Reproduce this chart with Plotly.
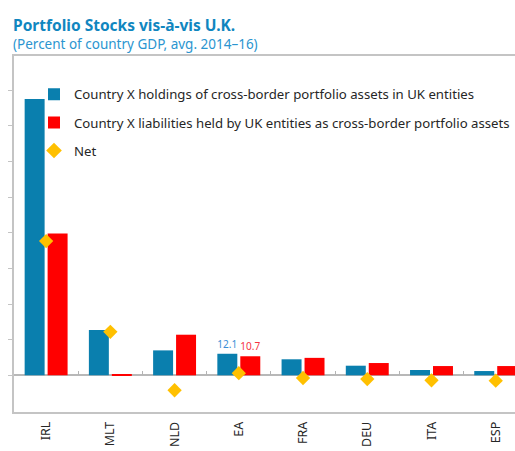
import plotly.graph_objects as go

categories = ["IRL", "MLT", "NLD", "EA", "FRA", "DEU", "ITA", "ESP"]
holdings = [155.2, 25.5, 14.0, 12.1, 9.0, 5.4, 3.0, 2.4]
liabilities = [79.6, 0.7, 22.8, 10.7, 9.8, 6.9, 5.2, 5.2]
net = [75.4, 24.4, -8.4, 1.2, -1.5, -2.1, -2.8, -3.0]
holdings_labels = ["", "", "", "12.1", "", "", "", ""]
liabilities_labels = ["", "", "", "10.7", "", "", "", ""]
y_ticks = [0, 20, 40, 60, 80, 100, 120, 140, 160]

BLUE = "#0a7fae"
RED = "#ff0000"
GOLD = "#ffc000"
FONT = "Noto Sans"

Y_MIN, Y_MAX = -20.6, 179.3
X_RANGE = [-0.5, 7.3]

fig = go.Figure()
fig.add_trace(go.Bar(
    x=categories, y=holdings, name="Country X holdings of cross-border portfolio assets in UK entities",
    marker=dict(color=BLUE, line=dict(width=0)), legendgroup="a",
    text=holdings_labels, textposition="outside", cliponaxis=False,
    textfont=dict(color="#3a8ed6", size=13, family=FONT),
))
fig.add_trace(go.Bar(
    x=categories, y=liabilities, name="Country X liabilities held by UK entities as cross-border portfolio assets",
    marker=dict(color=RED, line=dict(width=0)), legendgroup="b",
    text=liabilities_labels, textposition="outside", cliponaxis=False,
    textfont=dict(color="#f5333f", size=13, family=FONT),
))
fig.add_trace(go.Scatter(
    x=categories, y=net, name="Net", mode="markers", legendgroup="c",
    marker=dict(symbol="diamond", size=11, color=GOLD), cliponaxis=False,
))
fig.add_trace(go.Scatter(x=categories, y=[0] * len(categories), xaxis="x2", mode="none",
                         showlegend=False, hoverinfo="skip"))

fig.update_layout(
    width=515, height=451,
    margin=dict(l=14, r=0, t=56, b=39),
    paper_bgcolor="white", plot_bgcolor="white",
    font=dict(family=FONT, color="#262626"),
    barmode="group", bargap=0.285, bargroupgap=0.13,
    showlegend=True,
    legend=dict(x=0.042, y=0.935, xanchor="left", yanchor="top",
                bgcolor="rgba(0,0,0,0)", font=dict(size=13.2, color="#262626", family=FONT),
                tracegroupgap=8, traceorder="grouped", itemsizing="constant", itemwidth=30),
    xaxis=dict(type="category", range=X_RANGE, showline=True, mirror=True,
               linecolor="#c4c4c4", linewidth=1.5, ticks="", showgrid=False,
               tickangle=-90, tickfont=dict(size=12.5, color="#262626", family=FONT),
               ticklabelstandoff=3),
    xaxis2=dict(type="category", overlaying="x", anchor="free", range=X_RANGE,
                categoryorder="array", categoryarray=categories,
                position=-Y_MIN / (Y_MAX - Y_MIN), side="bottom", tickson="boundaries",
                ticks="inside", ticklen=4, tickcolor="#b4b4b4", tickwidth=1.2,
                showticklabels=False, showline=False, showgrid=False),
    yaxis=dict(range=[Y_MIN, Y_MAX], tickvals=y_ticks, showticklabels=False,
               ticks="outside", ticklen=4, tickcolor="#c4c4c4",
               showline=True, mirror=False, linecolor="#c4c4c4", linewidth=1.5,
               showgrid=False, zeroline=True, zerolinecolor="#b8b8b8", zerolinewidth=1.5),
)

fig.add_annotation(text="<b>Portfolio Stocks vis-à-vis U.K.</b>", xref="paper", yref="paper",
                   x=-0.006, y=1.124, xanchor="left", yanchor="top", showarrow=False,
                   font=dict(size=15.5, color="#1086bf", family=FONT))
fig.add_annotation(text="(Percent of country GDP, avg. 2014–16)", xref="paper", yref="paper",
                   x=-0.006, y=1.064, xanchor="left", yanchor="top", showarrow=False,
                   font=dict(size=13.5, color="#2b95d0", family=FONT))

fig.write_html("out.html", config={"displayModeBar": False},
               post_script="document.body.style.margin='0';")
